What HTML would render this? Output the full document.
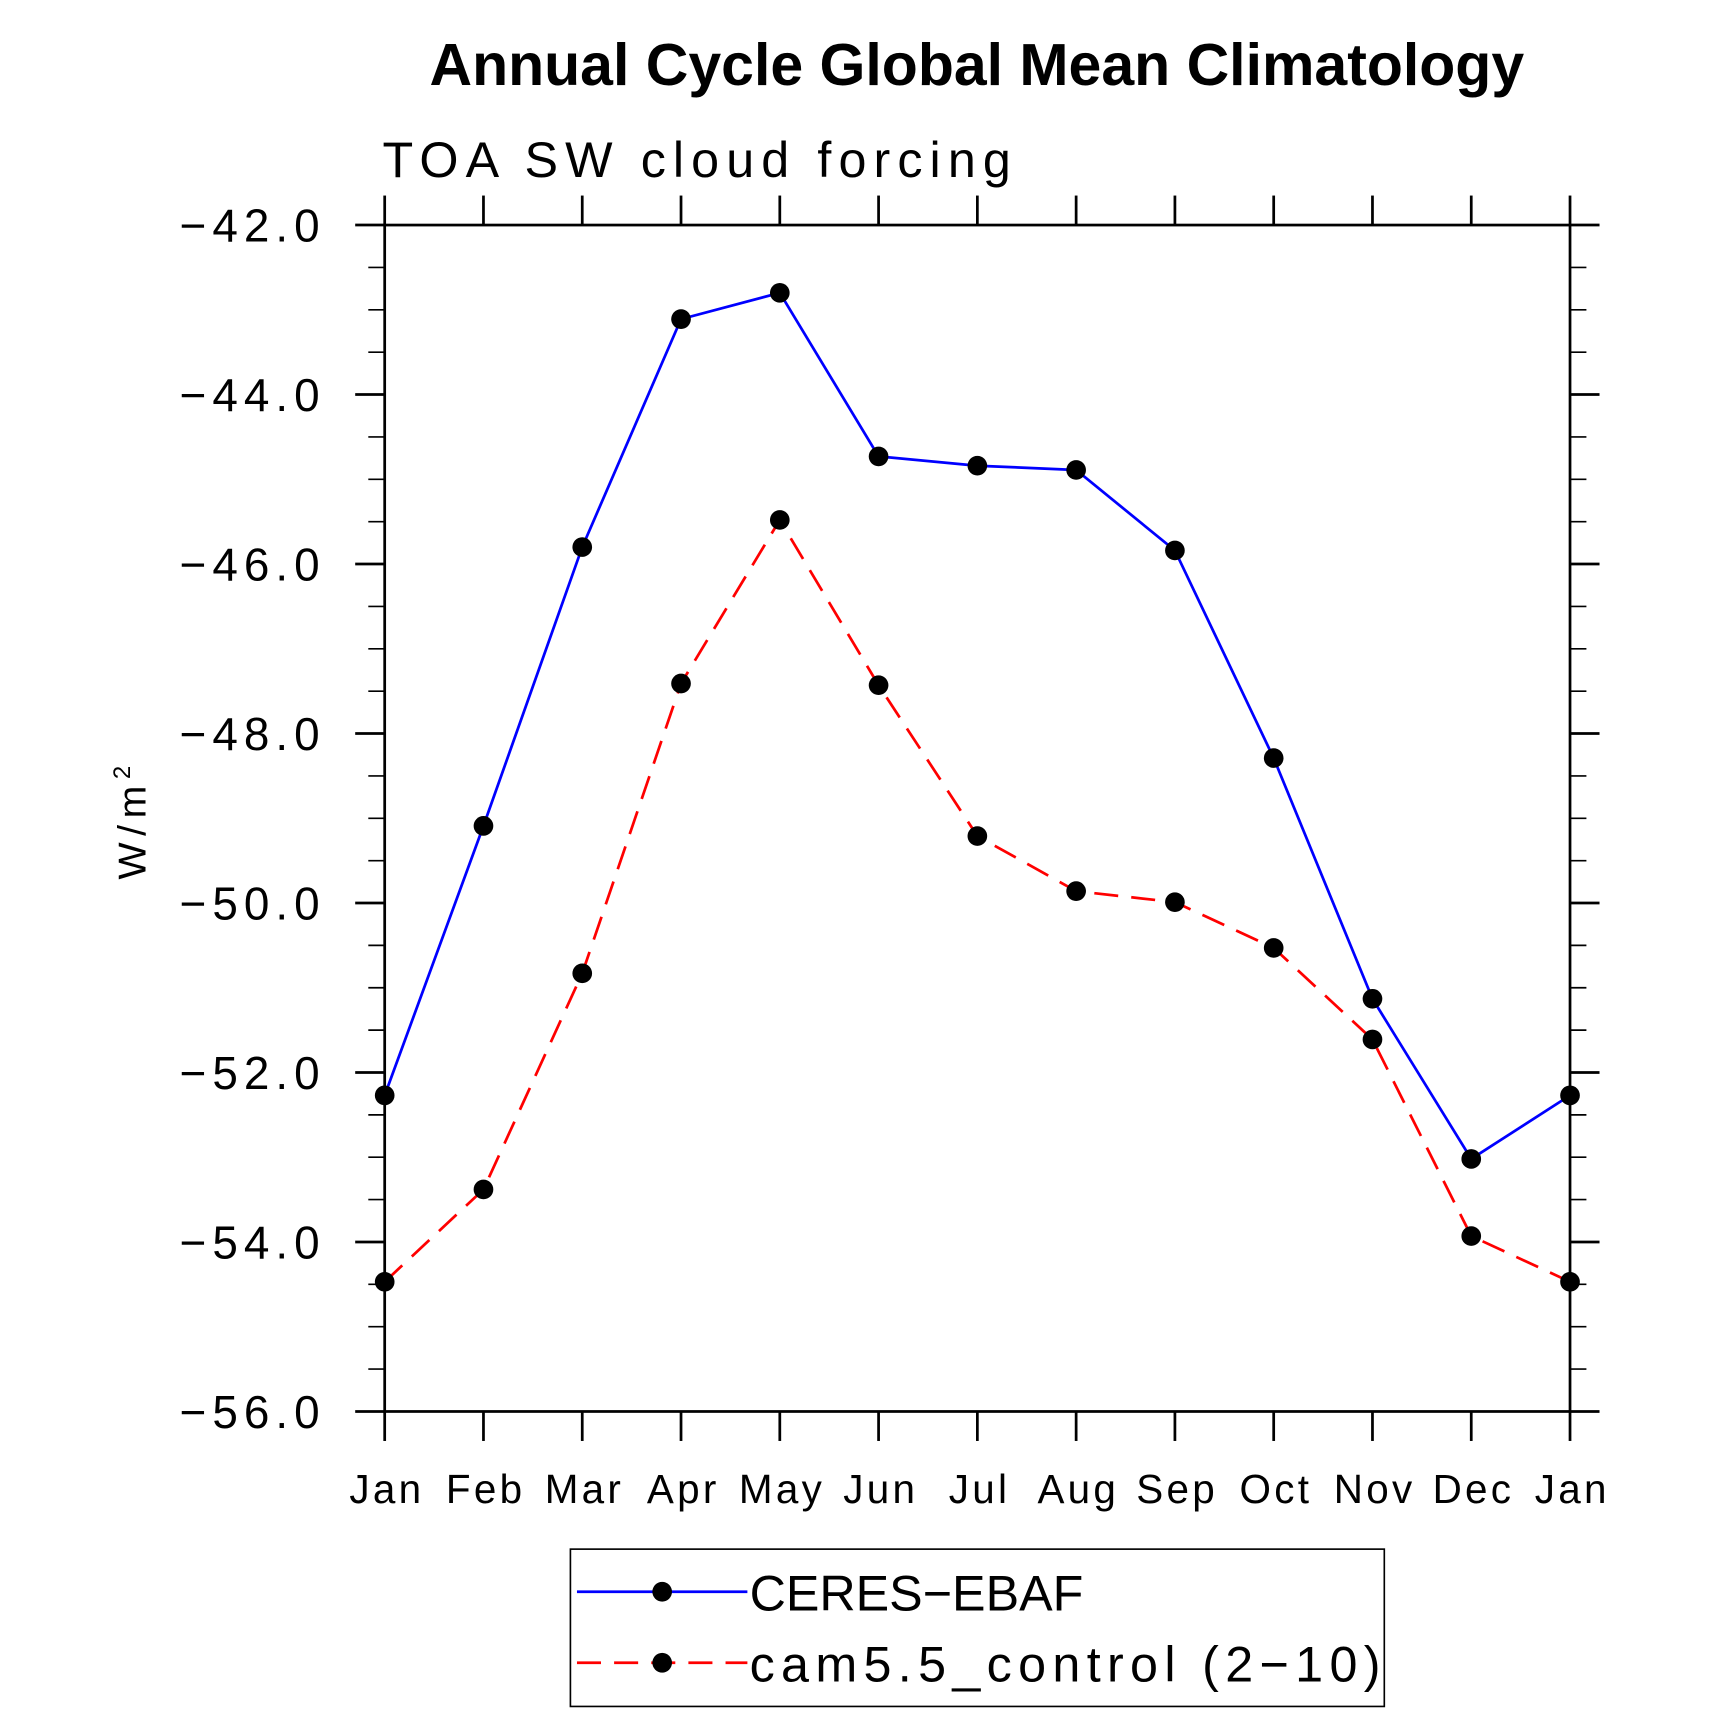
<!DOCTYPE html>
<html><head><meta charset="utf-8"><style>
html,body{margin:0;padding:0;background:#fff;}
svg{display:block;font-family:"Liberation Sans",sans-serif;}
</style></head><body>
<svg id="chart" width="1710" height="1713" viewBox="0 0 1565 1568" xmlns="http://www.w3.org/2000/svg">
<rect width="1565" height="1568" fill="#fff"/>
<text x="894" y="78" text-anchor="middle" font-size="54" font-weight="bold">Annual Cycle Global Mean Climatology</text>
<text x="350" y="162" font-size="46" font-weight="300" letter-spacing="6.5">TOA SW cloud forcing</text>
<text transform="translate(133,750) rotate(-90)" text-anchor="middle" font-size="36" letter-spacing="6">W/m<tspan dy="-14" font-size="22">2</tspan></text>
<g id="axes"></g>
<g id="series"></g>
<g>
<rect x="522" y="1418" width="745" height="144" fill="none" stroke="#000" stroke-width="1.5"/>
<line x1="528" y1="1457" x2="684" y2="1457" stroke="#0000ff" stroke-width="2.5"/>
<circle cx="606" cy="1457" r="9" fill="#000"/>
<text x="686" y="1474" font-size="46">CERES−EBAF</text>
<line x1="528" y1="1522" x2="684" y2="1522" stroke="#ff0000" stroke-width="2.5" stroke-dasharray="22,12"/>
<circle cx="606" cy="1522" r="9" fill="#000"/>
<text x="686" y="1539" font-size="46" letter-spacing="5.8">cam5.5_control (2−10)</text>
</g>
</svg>
<script>
const months = ["Jan","Feb","Mar","Apr","May","Jun","Jul","Aug","Sep","Oct","Nov","Dec","Jan"];
const ceres = [-52.27,-49.09,-45.80,-43.11,-42.80,-44.73,-44.84,-44.89,-45.84,-48.29,-51.13,-53.02,-52.27];
const cam = [-54.47,-53.38,-50.83,-47.41,-45.48,-47.43,-49.21,-49.86,-49.99,-50.53,-51.61,-53.93,-54.47];
const yTicks = [-42,-44,-46,-48,-50,-52,-54,-56];
const yTickLabels = ["−42.0","−44.0","−46.0","−48.0","−50.0","−52.0","−54.0","−56.0"];

const L=352,R=1437,T=206,B=1292,yMax=-42,yMin=-56;
const xs=i=>L+(R-L)*i/(months.length-1);
const ys=v=>T+(yMax-v)/(yMax-yMin)*(B-T);
const NS="http://www.w3.org/2000/svg";
function mk(tag,attrs,parent){const e=document.createElementNS(NS,tag);for(const k in attrs)e.setAttribute(k,attrs[k]);parent.appendChild(e);return e;}
const ax=document.getElementById('axes');
const frame=mk('rect',{x:L,y:T,width:R-L,height:B-T,fill:'none',stroke:'#000','stroke-width':2.5},ax);


for(let v=yMax;v>=yMin;v-=0.5){
  const y=ys(v);const major=Math.abs(v%2)<1e-6;
  const len=major?27:15;
  mk('line',{x1:L-len,y1:y,x2:L,y2:y,stroke:'#000','stroke-width':major?2.5:1.5},ax);
  mk('line',{x1:R,y1:y,x2:R+len,y2:y,stroke:'#000','stroke-width':major?2.5:1.5},ax);
}
yTicks.forEach((v,i)=>{
  const t=mk('text',{x:L-54,y:ys(v)+15,'text-anchor':'end','font-size':42,'letter-spacing':5.5},ax);
  t.textContent=yTickLabels[i];
  
  
});
months.forEach((m,i)=>{
  const x=xs(i);
  mk('line',{x1:x,y1:B,x2:x,y2:B+27,stroke:'#000','stroke-width':2.5},ax);
  mk('line',{x1:x,y1:T-27,x2:x,y2:T,stroke:'#000','stroke-width':2.5},ax);
  const t=mk('text',{x:x+2,y:B+84,'text-anchor':'middle','font-size':37,'letter-spacing':3},ax);
  t.textContent=m;
  
  
});
const sg=document.getElementById('series');
function drawSeries(vals,color,dash,name){
  const pts=vals.map((v,i)=>xs(i)+','+ys(v)).join(' ');
  const pl=mk('polyline',{points:pts,fill:'none',stroke:color,'stroke-width':2.5,'stroke-dasharray':dash},sg);
  
  
  vals.forEach((v,i)=>{
    const c=mk('circle',{cx:xs(i),cy:ys(v),r:9,fill:'#000'},sg);
    
    
  });
}
drawSeries(ceres,'#0000ff','none','ceres');
drawSeries(cam,'#ff0000','22,12','cam');
</script>
</body></html>
